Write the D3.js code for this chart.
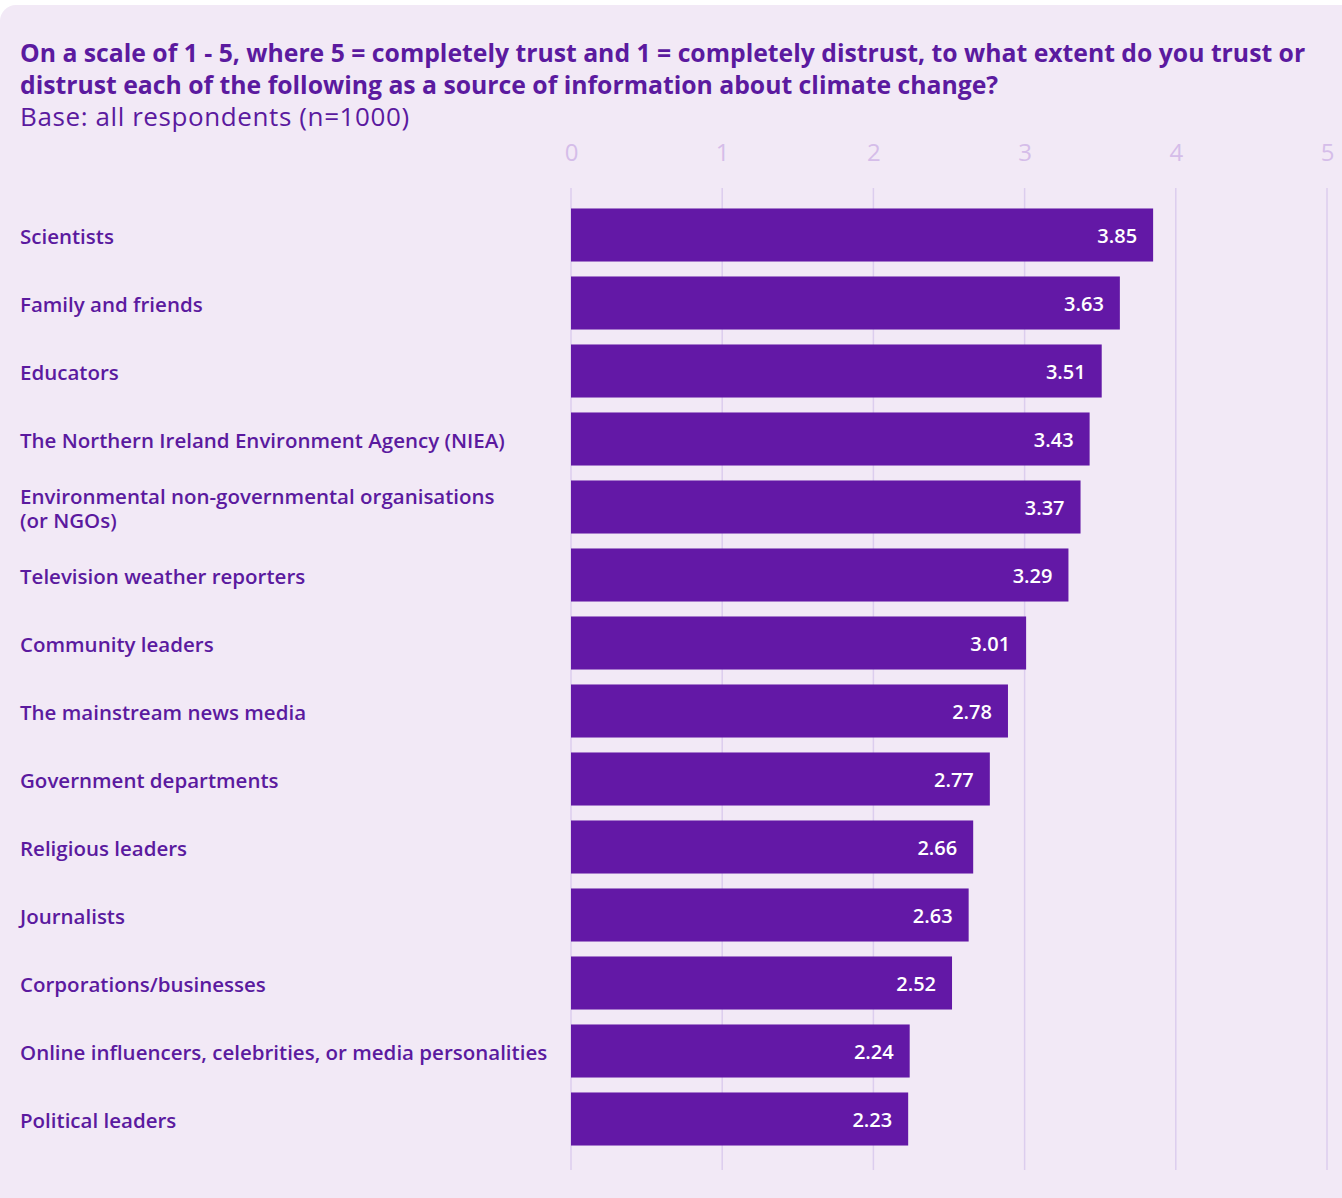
<!DOCTYPE html>
<html><head><meta charset="utf-8">
<script src="https://cdn.jsdelivr.net/npm/d3@7"></script>
<style>
html,body{margin:0;padding:0;background:#fff;}
svg{display:block;}
</style></head>
<body>
<script>
const categories = [
  "Scientists",
  "Family and friends",
  "Educators",
  "The Northern Ireland Environment Agency (NIEA)",
  "Environmental non-governmental organisations|(or NGOs)",
  "Television weather reporters",
  "Community leaders",
  "The mainstream news media",
  "Government departments",
  "Religious leaders",
  "Journalists",
  "Corporations/businesses",
  "Online influencers, celebrities, or media personalities",
  "Political leaders"
];
// bar lengths as drawn in the picture
const values = [3.85, 3.63, 3.51, 3.43, 3.37, 3.29, 3.01, 2.89, 2.77, 2.66, 2.63, 2.52, 2.24, 2.23];
// value labels as printed
const valueLabels = ["3.85", "3.63", "3.51", "3.43", "3.37", "3.29", "3.01", "2.78", "2.77", "2.66", "2.63", "2.52", "2.24", "2.23"];
const tickValues = [0, 1, 2, 3, 4, 5];
const titleLines = [
  "On a scale of 1 - 5, where 5 = completely trust and 1 = completely distrust, to what extent do you trust or",
  "distrust each of the following as a source of information about climate change?"
];
const subtitle = "Base: all respondents (n=1000)";

const W = 1342, H = 1198;
const font = "'Open Sans', sans-serif";
const svg = d3.select("body").append("svg").attr("width", W).attr("height", H);

svg.append("rect").attr("x", 0).attr("y", 5).attr("width", W + 20).attr("height", H + 20)
  .attr("rx", 16).attr("fill", "#f2e9f6");

const x = d3.scaleLinear().domain([0, 5]).range([571, 1327]);
const y = d3.scaleBand().domain(categories).range([201, 1153]).paddingInner(0.22).paddingOuter(0.11);

// title
svg.append("g").selectAll("text").data(titleLines).join("text")
  .attr("x", 20).attr("y", (d, i) => 62 + i * 32)
  .attr("font-family", font).attr("font-weight", 700).attr("font-size", 24.75)
  .attr("fill", "#5b1a9f").text(d => d);
svg.append("text").attr("x", 20).attr("y", 126)
  .attr("font-family", font).attr("font-weight", 400).attr("font-size", 26)
  .attr("letter-spacing", 0.6)
  .attr("fill", "#5b1a9f").text(subtitle);

// grid
const axis = d3.axisTop(x).tickValues(tickValues).tickSize(0).tickPadding(0).tickFormat(d3.format("d"));
const ag = svg.append("g").attr("transform", "translate(0,161)").call(axis);
ag.select(".domain").remove();
ag.selectAll("text").attr("font-family", font).attr("font-size", 24).attr("fill", "#d5bde9");

svg.append("g").selectAll("line").data(tickValues).join("line")
  .attr("x1", d => x(d)).attr("x2", d => x(d)).attr("y1", 188).attr("y2", 1170)
  .attr("stroke", "#dccdee").attr("stroke-width", 1.5);

// bars
svg.append("g").selectAll("rect").data(categories).join("rect")
  .attr("x", x(0)).attr("y", d => y(d))
  .attr("width", (d, i) => x(values[i]) - x(0)).attr("height", y.bandwidth())
  .attr("fill", "#6318a6");

svg.append("g").selectAll("text").data(categories).join("text")
  .attr("x", (d, i) => x(values[i]) - 16).attr("y", d => y(d) + y.bandwidth() / 2 + 1)
  .attr("dy", "0.35em").attr("text-anchor", "end")
  .attr("font-family", font).attr("font-weight", 600).attr("font-size", 20)
  .attr("fill", "#fff").text((d, i) => valueLabels[i]);

// category labels
const lg = svg.append("g").selectAll("text").data(categories).join("text")
  .attr("x", 20).attr("font-family", font).attr("font-weight", 600).attr("font-size", 20.5)
  .attr("fill", "#5b1a9f");
lg.each(function(d) {
  const parts = d.split("|");
  const cy = y(d) + y.bandwidth() / 2 + 2;
  const t = d3.select(this);
  parts.forEach((p, i) => {
    t.append("tspan").attr("x", 20)
      .attr("y", cy + (i - (parts.length - 1) / 2) * 24)
      .attr("dy", "0.35em").text(p);
  });
});
</script>
</body></html>
